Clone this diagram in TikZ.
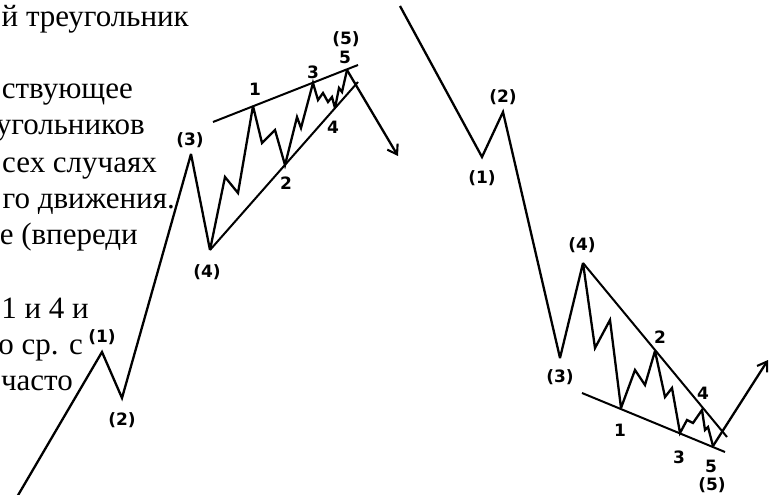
\documentclass[tikz,border=0pt]{standalone}
\usepackage{fontspec}
\setmainfont{Liberation Serif}
\newfontfamily\lblfont{DejaVu Sans Bold}
\usetikzlibrary{arrows.meta}
\begin{document}
\begin{tikzpicture}[x=1pt,y=-1pt,
  wave/.style={line width=2.3pt, line join=miter, miter limit=4},
  trend/.style={line width=2pt},
  arr/.style={line width=2.3pt, -{Straight Barb[length=9pt,width=12pt,line width=2.1pt]}},
  lbl/.style={font=\lblfont\fontsize{17}{17}\selectfont, inner sep=0pt},
  txt/.style={font=\fontsize{31}{36}\selectfont, anchor=base east, inner sep=0pt}]
\useasboundingbox (0,0) rectangle (769,495);
\clip (0,0) rectangle (769,495);
\fill[white] (0,0) rectangle (769,495);

% ---- text cut at the left edge ----
\node[txt] (t1) at (189,27) {й треугольник};
\node[txt] (t2) at (133,99) {ствующее};
\node[txt] (t3) at (145,135) {угольников};
\node[txt] (t4) at (157,172) {сех случаях};
\node[txt] (t5) at (175,208) {го движения.};
\node[txt] (t6) at (138,244) {е (впереди};
\node[txt] (t7) at (89,318) {1 и 4 и};
\node[txt] (t8) at (83,354) {о ср. с};
\node[txt] (t9) at (73,390) {часто};

% ---- left diagram: ending diagonal ----
\coordinate (Ls) at (17,497);
\coordinate (L1) at (102,352);
\coordinate (L2) at (122,398);
\coordinate (L3) at (191,154);
\coordinate (L4) at (210,250);
\coordinate (a1) at (225,177);
\coordinate (a2) at (238,193);
\coordinate (l1) at (253,106);
\coordinate (a3) at (262,143);
\coordinate (a4) at (275,130);
\coordinate (l2) at (285,165);
\coordinate (a5) at (297,117);
\coordinate (a6) at (301,128);
\coordinate (l3) at (313,83);
\coordinate (a7) at (318,100);
\coordinate (a8) at (323,93);
\coordinate (a9) at (328,102);
\coordinate (a10) at (332,97);
\coordinate (l4) at (335,108);
\coordinate (a11) at (339,88);
\coordinate (a12) at (342,92);
\coordinate (l5) at (347,70);
\coordinate (Lend) at (398,156);
\coordinate (Lu0) at (213,122);
\coordinate (Lu1) at (358,65);
\coordinate (Ld1) at (358,82);

\draw[wave] (Ls) -- (L1) -- (L2) -- (L3) -- (L4) -- (a1) -- (a2) -- (l1) -- (a3) -- (a4) -- (l2)
  -- (a5) -- (a6) -- (l3) -- (a7) -- (a8) -- (a9) -- (a10) -- (l4) -- (a11) -- (a12) -- (l5);
\draw[arr] (l5) -- (Lend);
\draw[trend] (Lu0) -- (Lu1);
\draw[trend] (L4) -- (Ld1);

\node[lbl] (nL1) at (102,337) {(1)};
\node[lbl] (nL2) at (122,420) {(2)};
\node[lbl] (nL3) at (190,140) {(3)};
\node[lbl] (nL4) at (207,272) {(4)};
\node[lbl] (nl1) at (255,89) {1};
\node[lbl] (nl2) at (286,183) {2};
\node[lbl] (nl3) at (313,72) {3};
\node[lbl] (nl4) at (333,127) {4};
\node[lbl] (nl5) at (345,57) {5};
\node[lbl] (nL5) at (346,39) {(5)};

% ---- right diagram: ending diagonal in a decline ----
\coordinate (Rs) at (400,6);
\coordinate (R1) at (482,157);
\coordinate (R2) at (503,112);
\coordinate (R3) at (560,358);
\coordinate (R4) at (583,263);
\coordinate (b1) at (595,348);
\coordinate (b2) at (610,320);
\coordinate (r1) at (621,408);
\coordinate (b3) at (635,370);
\coordinate (b4) at (645,385);
\coordinate (r2) at (655,351);
\coordinate (b5) at (665,397);
\coordinate (b6) at (672,388);
\coordinate (r3) at (680,433);
\coordinate (b7) at (687,420);
\coordinate (b8) at (693,423);
\coordinate (r4) at (702,410);
\coordinate (b9) at (705,430);
\coordinate (b10) at (708,427);
\coordinate (r5) at (713,446);
\coordinate (Rend) at (768,360);
\coordinate (Ru1) at (727,437);
\coordinate (Rd0) at (582,393);
\coordinate (Rd1) at (725,452);

\draw[wave] (Rs) -- (R1) -- (R2) -- (R3) -- (R4) -- (b1) -- (b2) -- (r1) -- (b3) -- (b4) -- (r2)
  -- (b5) -- (b6) -- (r3) -- (b7) -- (b8) -- (r4) -- (b9) -- (b10) -- (r5);
\draw[arr] (r5) -- (Rend);
\draw[trend] (R4) -- (Ru1);
\draw[trend] (Rd0) -- (Rd1);

\node[lbl] (nR1) at (482,178) {(1)};
\node[lbl] (nR2) at (503,97) {(2)};
\node[lbl] (nR3) at (560,377) {(3)};
\node[lbl] (nR4) at (582,245) {(4)};
\node[lbl] (nr1) at (620,430) {1};
\node[lbl] (nr2) at (660,337) {2};
\node[lbl] (nr3) at (679,457) {3};
\node[lbl] (nr4) at (703,393) {4};
\node[lbl] (nr5) at (711,466) {5};
\node[lbl] (nR5) at (712,485) {(5)};
\end{tikzpicture}
\end{document}
